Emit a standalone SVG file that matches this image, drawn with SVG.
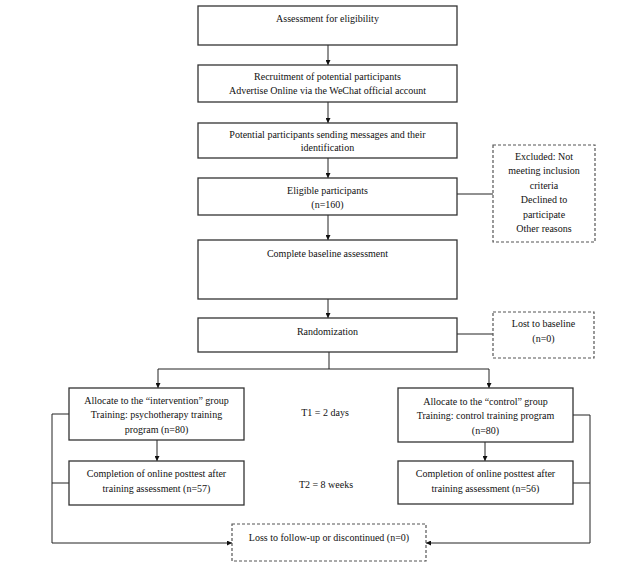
<svg xmlns="http://www.w3.org/2000/svg" width="638" height="569" viewBox="0 0 638 569">
<style>
.box{fill:#fff;stroke:#333;stroke-width:1.3}
.dash{fill:#fff;stroke:#555;stroke-width:1.2;stroke-dasharray:3,2}
.ln{fill:none;stroke:#222;stroke-width:1}
text{font-family:"Liberation Serif","Times New Roman",serif;font-size:10px;fill:#111;text-anchor:middle}
</style>
<defs>
<marker id="ah" viewBox="0 0 10 10" refX="10" refY="5" markerWidth="5" markerHeight="5" orient="auto" markerUnits="userSpaceOnUse">
<path d="M0,0 L10,5 L0,10 z" fill="#111"/>
</marker>
</defs>
<rect width="638" height="569" fill="#fff"/>
<g id="connectors">
<line class="ln" x1="328" y1="45" x2="328" y2="65" marker-end="url(#ah)"/>
<line class="ln" x1="328" y1="102" x2="328" y2="123" marker-end="url(#ah)"/>
<line class="ln" x1="328" y1="158" x2="328" y2="178" marker-end="url(#ah)"/>
<line class="ln" x1="328" y1="215" x2="328" y2="240" marker-end="url(#ah)"/>
<line class="ln" x1="328" y1="299" x2="328" y2="318" marker-end="url(#ah)"/>
<line class="ln" x1="457" y1="194" x2="493" y2="194"/>
<line class="ln" x1="457" y1="334" x2="493" y2="334"/>
<polyline class="ln" points="329,352 329,369 158,369 158,388" marker-end="url(#ah)"/>
<polyline class="ln" points="329,369 489,369 489,388" marker-end="url(#ah)"/>
<line class="ln" x1="157" y1="440" x2="157" y2="461" marker-end="url(#ah)"/>
<line class="ln" x1="485" y1="442" x2="485" y2="461" marker-end="url(#ah)"/>
<polyline class="ln" points="69,414 52,414 52,543 232,543" marker-end="url(#ah)"/>
<line class="ln" x1="52" y1="483" x2="69" y2="483"/>
<polyline class="ln" points="573,415 590,415 590,543 426,543" marker-end="url(#ah)"/>
<line class="ln" x1="573" y1="483" x2="590" y2="483"/>
</g>
<g id="n1"><rect class="box" x="198" y="6" width="259" height="39"/><text x="327.5" y="21.5">Assessment for eligibility</text></g>
<g id="n2"><rect class="box" x="198" y="65" width="259" height="37"/><text x="327.5" y="79.5">Recruitment of potential participants</text><text x="327.5" y="93.5">Advertise Online via the WeChat official account</text></g>
<g id="n3"><rect class="box" x="198" y="123" width="259" height="35"/><text x="327.5" y="137.5">Potential participants sending messages and their</text><text x="327.5" y="150.5">identification</text></g>
<g id="n4"><rect class="box" x="198" y="178" width="259" height="37"/><text x="327.5" y="193.5">Eligible participants</text><text x="327.5" y="207.5">(n=160)</text></g>
<g id="n5"><rect class="dash" x="493" y="145" width="102" height="97"/><text x="544" y="159.5">Excluded: Not</text><text x="544" y="174">meeting inclusion</text><text x="544" y="188.5">criteria</text><text x="544" y="203">Declined to</text><text x="544" y="217.5">participate</text><text x="544" y="232">Other reasons</text></g>
<g id="n6"><rect class="box" x="198" y="240" width="259" height="59"/><text x="327.5" y="256.5">Complete baseline assessment</text></g>
<g id="n7"><rect class="box" x="198" y="318" width="259" height="34"/><text x="327.5" y="334.5">Randomization</text></g>
<g id="n8"><rect class="dash" x="493" y="312" width="101" height="46"/><text x="543.5" y="326.5">Lost to baseline</text><text x="543.5" y="341.5">(n=0)</text></g>
<g id="n9"><rect class="box" x="69" y="388" width="175" height="52"/><text x="156.5" y="403.5">Allocate to the “intervention” group</text><text x="156.5" y="417.5">Training: psychotherapy training</text><text x="156.5" y="432.5">program (n=80)</text></g>
<g id="n10"><rect class="box" x="398" y="388" width="175" height="54"/><text x="485.5" y="404.5">Allocate to the “control” group</text><text x="485.5" y="418.5">Training: control training program</text><text x="485.5" y="433.5">(n=80)</text></g>
<g id="n11"><rect class="box" x="69" y="461" width="175" height="44"/><text x="156.5" y="476.5">Completion of online posttest after</text><text x="156.5" y="491.5">training assessment (n=57)</text></g>
<g id="n12"><rect class="box" x="398" y="461" width="175" height="43"/><text x="485.5" y="476.5">Completion of online posttest after</text><text x="485.5" y="491.5">training assessment (n=56)</text></g>
<g id="n13"><rect class="dash" x="232" y="524" width="194" height="37"/><text x="329" y="540.5">Loss to follow-up or discontinued (n=0)</text></g>
<g id="t1"><text x="325" y="415.5">T1 = 2 days</text></g>
<g id="t2"><text x="326" y="487.5">T2 = 8 weeks</text></g>
</svg>
